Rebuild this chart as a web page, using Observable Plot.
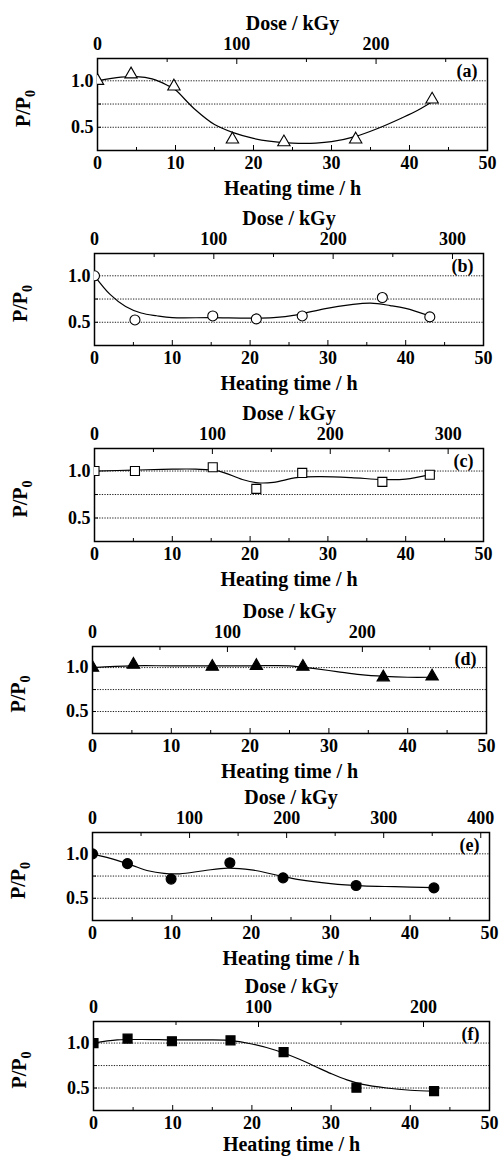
<!DOCTYPE html>
<html><head><meta charset="utf-8">
<script src="https://cdn.jsdelivr.net/npm/d3@7"></script>
<script src="https://cdn.jsdelivr.net/npm/@observablehq/plot@0.6"></script>
<style>
body{margin:0;background:#fff;}
#root{position:relative;width:502px;height:1156px;overflow:hidden;}
#root svg{position:absolute;left:0;background:transparent !important;}
</style></head><body><div id="root"></div>
<script>
// ---- data ----
const panelLabels = ["(a)", "(b)", "(c)", "(d)", "(e)", "(f)"];
const timeTicks = [0, 10, 20, 30, 40, 50];
const ratioTicks = [0.5, 1.0];
const doseAt50h = [280, 326, 330, 292, 409, 240];
const doseTicks = [[0, 100, 200], [0, 100, 200, 300], [0, 100, 200, 300], [0, 100, 200], [0, 100, 200, 300, 400], [0, 100, 200]];
const symbols = ["triangle", "circle", "square", "triangle", "circle", "square"];
const filled = [false, false, false, true, true, true];

const timeA = [0, 4.3, 9.8, 17.3, 23.9, 33.1, 42.9];
const ratioA = [1.0, 1.07, 0.94, 0.37, 0.34, 0.37, 0.80];
const timeB = [0, 5.2, 15.2, 20.8, 26.7, 37.0, 43.1];
const ratioB = [1.0, 0.525, 0.568, 0.536, 0.568, 0.766, 0.558];
const timeC = [0, 5.2, 15.2, 20.8, 26.7, 37.0, 43.1];
const ratioC = [1.0, 1.0, 1.04, 0.81, 0.98, 0.885, 0.96];
const timeD = [0, 5.2, 15.2, 20.8, 26.7, 36.9, 43.1];
const ratioD = [1.0, 1.034, 1.01, 1.02, 1.01, 0.89, 0.90];
const timeE = [0, 4.4, 9.9, 17.3, 24.0, 33.2, 43.0];
const ratioE = [1.0, 0.89, 0.716, 0.90, 0.73, 0.644, 0.617];
const timeF = [0, 4.3, 9.9, 17.3, 24.0, 33.2, 43.0];
const ratioF = [1.0, 1.05, 1.02, 1.03, 0.90, 0.504, 0.466];

const fitTimeA = [0, 3, 5, 7, 9, 10, 12.4, 15, 17.5, 20, 22, 25, 28, 30, 33, 36, 39, 41, 43];
const fitRatioA = [1.0, 1.04, 1.045, 1.02, 0.95, 0.9, 0.7, 0.53, 0.44, 0.38, 0.35, 0.33, 0.33, 0.345, 0.40, 0.49, 0.60, 0.68, 0.78];
const fitTimeB = [0, 2, 4, 6, 8, 10, 15, 20, 23, 26, 29.5, 33, 35.5, 38, 40, 43];
const fitRatioB = [1.0, 0.8, 0.67, 0.6, 0.57, 0.55, 0.55, 0.545, 0.55, 0.58, 0.645, 0.69, 0.705, 0.68, 0.65, 0.57];
const fitTimeC = [0, 5, 10, 13, 16, 19, 21, 23, 26, 29, 33, 37, 40, 43];
const fitRatioC = [1.0, 1.01, 1.02, 1.02, 1.0, 0.91, 0.875, 0.88, 0.93, 0.94, 0.93, 0.91, 0.915, 0.96];
const fitTimeD = [0, 5, 10, 20, 25, 28, 31, 34, 37, 40, 43];
const fitRatioD = [1.0, 1.02, 1.02, 1.02, 1.02, 0.99, 0.955, 0.92, 0.9, 0.89, 0.89];
const fitTimeE = [0, 3, 5, 7, 9, 11, 14, 17, 20, 23, 26, 30, 34, 38, 43];
const fitRatioE = [1.0, 0.93, 0.87, 0.81, 0.78, 0.775, 0.81, 0.84, 0.82, 0.765, 0.71, 0.665, 0.64, 0.63, 0.62];
const fitTimeF = [0, 3, 6, 10, 14, 17, 20, 23, 26, 28, 30, 32, 34, 37, 40, 43];
const fitRatioF = [1.0, 1.035, 1.04, 1.035, 1.035, 1.03, 0.99, 0.92, 0.82, 0.74, 0.66, 0.59, 0.54, 0.5, 0.475, 0.465];

const pointSeries = [[timeA, ratioA], [timeB, ratioB], [timeC, ratioC], [timeD, ratioD], [timeE, ratioE], [timeF, ratioF]];
const fitSeries = [[fitTimeA, fitRatioA], [fitTimeB, fitRatioB], [fitTimeC, fitRatioC], [fitTimeD, fitRatioD], [fitTimeE, fitRatioE], [fitTimeF, fitRatioF]];

// ---- layout ----
const frameLeft = [97, 94, 94, 92, 92, 93];
const frameRight = [487, 483, 483, 486, 489, 489];
const frameTop = [58, 253, 448, 646, 832, 1021];
const frameBottom = [150, 345, 541, 733, 920, 1110];
const bottomTitleOffset = [38, 38, 38, 38, 38, 34];
const markerR = {triangle: 4.6, circle: 5, square: 5.1};
const mT = 60, mB = 52;
const FONT = "'Liberation Serif', 'Times New Roman', serif";
const SVGNS = "http://www.w3.org/2000/svg";

const root = document.getElementById("root");
const zip = ([xs, ys]) => xs.map((x, i) => ({t: x, r: ys[i]}));

for (let i = 0; i < 6; i++) {
  const k = 50 / doseAt50h[i];
  const major = doseTicks[i].map(d => d * k);
  const minor = d3.range(50, doseAt50h[i], 100).map(d => d * k);
  const pts = zip(pointSeries[i]);
  const fit = zip(fitSeries[i]);
  const H = mT + (frameBottom[i] - frameTop[i]) + mB;
  const svg = Plot.plot({
    width: 502, height: H,
    marginLeft: frameLeft[i], marginRight: 502 - frameRight[i], marginTop: mT, marginBottom: mB,
    style: {fontFamily: FONT, fontWeight: "bold", fontSize: "18px", background: "transparent", color: "black", overflow: "visible"},
    x: {domain: [0, 50], label: null},
    y: {domain: [0.25, 1.24], label: null},
    marks: [
      Plot.gridY([0.5, 0.75, 1.0], {stroke: "#222", strokeOpacity: 1, strokeDasharray: "1.3,1.3", strokeWidth: 1}),
      // bottom axis
      Plot.axisX(timeTicks, {anchor: "bottom", tickSize: 0, tickPadding: 6, label: null, fontSize: 18}),
      Plot.axisX(timeTicks, {anchor: "bottom", tickSize: -5, tickFormat: () => "", label: null}),
      Plot.axisX([5, 15, 25, 35, 45], {anchor: "bottom", tickSize: -3, tickFormat: () => "", label: null}),
      // top (dose) axis
      Plot.axisX(major, {anchor: "top", tickSize: 0, tickPadding: 9, label: null, fontSize: 18,
        tickFormat: h => String(Math.round(h / k))}),
      Plot.axisX(major, {anchor: "top", tickSize: -5, tickFormat: () => "", label: null}),
      Plot.axisX(minor, {anchor: "top", tickSize: -3, tickFormat: () => "", label: null}),
      // left axis
      Plot.axisY(ratioTicks, {anchor: "left", tickSize: 0, tickPadding: 4, label: null, fontSize: 18,
        tickFormat: d3.format(".1f")}),
      Plot.axisY([0.5, 0.75, 1.0], {anchor: "left", tickSize: -4, tickFormat: () => "", label: null}),
      Plot.frame({stroke: "black", strokeWidth: 1.5}),
      Plot.line(fit, {x: "t", y: "r", curve: "catmull-rom", stroke: "black", strokeWidth: 1.2}),
      Plot.dot(pts, {x: "t", y: "r", symbol: () => symbols[i], r: markerR[symbols[i]],
        fill: filled[i] ? "black" : "white", stroke: "black", strokeWidth: 1.1, clip: true}),
      Plot.text([panelLabels[i]], {frameAnchor: "top-right", dx: -10, dy: 13, textAnchor: "end", lineAnchor: "middle", fontSize: 18}),
      Plot.text(["Dose / kGy"], {frameAnchor: "top", dy: -35, lineAnchor: "middle", fontSize: 20}),
      Plot.text(["Heating time / h"], {frameAnchor: "bottom", dy: bottomTitleOffset[i], lineAnchor: "middle", fontSize: 20}),
      Plot.text(["P/P0"], {frameAnchor: "left", dx: -74, dy: 4, rotate: -90, textAnchor: "middle", lineAnchor: "middle", fontSize: 20})
    ]
  });
  svg.style.top = (frameTop[i] - mT) + "px";
  svg.querySelectorAll("text").forEach(t => {
    if (t.textContent === "P/P0") {
      t.textContent = "P/P";
      const ts = document.createElementNS(SVGNS, "tspan");
      ts.setAttribute("font-size", "14");
      ts.setAttribute("dy", "5");
      ts.textContent = "0";
      t.appendChild(ts);
    }
  });
  root.appendChild(svg);
}
</script></body></html>
